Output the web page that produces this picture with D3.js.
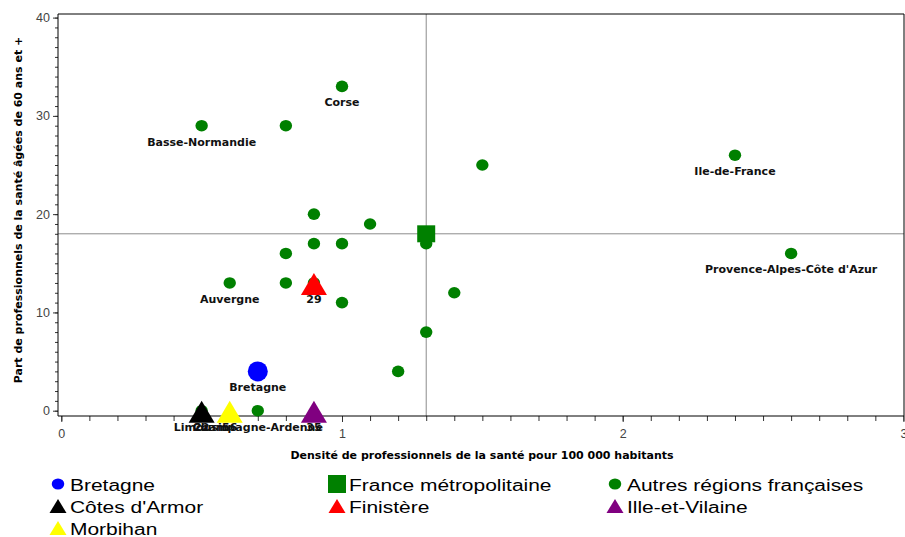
<!DOCTYPE html>
<html><head><meta charset="utf-8">
<script src="https://cdn.jsdelivr.net/npm/d3@7"></script>
<style>body{margin:0;background:#fff}svg{display:block}</style>
</head><body>
<svg id="c" width="905" height="537"></svg>
<script>
// Autres régions françaises
const regionX = [0.5, 0.8, 1.0, 1.5, 2.4, 2.6, 0.9, 1.1, 0.8, 0.9, 1.0, 1.3, 0.6, 0.8, 0.9, 1.0, 1.4, 1.3, 1.2, 0.7, 0.5];
const regionY = [29, 29, 33, 25, 26, 16, 20, 19, 16, 17, 17, 17, 13, 13, 13, 11, 12, 8, 4, 0, 0];
const regionLabel = ["Basse-Normandie", "", "Corse", "", "Ile-de-France", "Provence-Alpes-Côte d'Azur", "", "", "", "", "", "", "Auvergne", "", "", "", "", "", "", "Champagne-Ardenne", "Limousin"];
// Highlighted series
const seriesNames = ["Bretagne", "France métropolitaine", "Autres régions françaises", "Côtes d'Armor", "Finistère", "Ille-et-Vilaine", "Morbihan"];
const seriesX = [0.7, 1.3, null, 0.5, 0.9, 0.9, 0.6];
const seriesY = [4, 18, null, 0, 13, 0, 0];
const seriesLabel = ["Bretagne", "", "", "22", "29", "35", "56"];
const seriesShape = ["circle", "square", "circle", "triangle", "triangle", "triangle", "triangle"];
const seriesColor = ["#0000ff", "#008000", "#008000", "#000000", "#ff0000", "#800080", "#ffff00"];
const refX = 1.3, refY = 18;
const xTicks = [0, 1, 2, 3];
const yTicks = [0, 10, 20, 30, 40];
const xTitle = "Densité de professionnels de la santé pour 100 000 habitants";
const yTitle = "Part de professionnels de la santé âgées de 60 ans et +";

const svg = d3.select("#c");
const L = 58, R = 904, T = 14, B = 416;
const x = d3.scaleLinear().domain([0, 3]).range([61.3, 903.4]);
const y = d3.scaleLinear().domain([0, 40]).range([410.7, 17.6]);
const font = "Liberation Sans, Arial, sans-serif";
const bfont = "DejaVu Sans, Verdana, sans-serif";

// shape path generators (w x h, centered)
function shapePath(shape, w, h) {
  if (shape === "triangle") return `M0,${-h/2}L${w/2},${h/2}L${-w/2},${h/2}Z`;
  if (shape === "square") return `M${-w/2},${-h/2}h${w}v${h}h${-w}Z`;
  return `M${-w/2},0a${w/2},${h/2} 0 1,0 ${w},0a${w/2},${h/2} 0 1,0 ${-w},0Z`;
}
const plotDims = {circle: [20, 20], square: [18, 17], triangle: [26, 22]};
const legDims = {circle: [12.5, 11], square: [18, 18], triangle: [17, 14]};

// reference lines
svg.append("line").attr("x1", x(refX)).attr("x2", x(refX)).attr("y1", T).attr("y2", B).attr("stroke", "#8c8c8c").attr("stroke-width", 1);
svg.append("line").attr("x1", L).attr("x2", R).attr("y1", y(refY)).attr("y2", y(refY)).attr("stroke", "#8c8c8c").attr("stroke-width", 1);

// axes
const minorX = d3.range(0, 3.0001, 0.1).map(v => +v.toFixed(1));
const minorY = d3.range(0, 40.001, 1);
const gx = svg.append("g").attr("transform", `translate(0,${B})`);
gx.call(d3.axisBottom(x).tickValues(minorX).tickSize(5).tickFormat(""));
gx.select(".domain").remove();
const gx2 = svg.append("g").attr("transform", `translate(0,${B})`);
gx2.call(d3.axisBottom(x).tickValues(xTicks).tickSize(6).tickPadding(7).tickFormat(d3.format("d")));
gx2.select(".domain").remove();
const gy = svg.append("g").attr("transform", `translate(${L},0)`);
gy.call(d3.axisLeft(y).tickValues(minorY).tickSize(3).tickFormat(""));
gy.select(".domain").remove();
const gy2 = svg.append("g").attr("transform", `translate(${L},0)`);
gy2.call(d3.axisLeft(y).tickValues(yTicks).tickSize(5).tickPadding(3).tickFormat(d3.format("d")));
gy2.select(".domain").remove();
svg.selectAll(".tick line").attr("stroke", "#333");
svg.selectAll(".tick text").attr("font-family", font).attr("font-size", 12.5).attr("fill", "#444");

// frame
svg.append("path").attr("d", `M${L},${T}H${R}V${B}H${L}Z`).attr("fill", "none").attr("stroke", "#000").attr("stroke-width", 1);

// axis titles
svg.append("text").attr("x", 482).attr("y", 459).attr("text-anchor", "middle").attr("font-family", bfont).attr("font-size", 11).attr("font-weight", "bold").text(xTitle);
svg.append("text").attr("transform", "translate(22,210) rotate(-90)").attr("text-anchor", "middle").attr("font-family", bfont).attr("font-size", 11).attr("font-weight", "bold").text(yTitle);

const green = seriesColor[2];

// other regions
const regions = regionX.map((v, i) => ({x: v, y: regionY[i], label: regionLabel[i]}));
svg.append("g").selectAll("ellipse").data(regions).join("ellipse")
  .attr("cx", d => x(d.x)).attr("cy", d => y(d.y)).attr("rx", 6.2).attr("ry", 5.8).attr("fill", green);

// highlighted
const hl = seriesNames.map((n, i) => ({name: n, x: seriesX[i], y: seriesY[i], label: seriesLabel[i], shape: seriesShape[i], color: seriesColor[i]})).filter(d => d.x !== null);
svg.append("g").selectAll("path").data(hl).join("path")
  .attr("transform", d => `translate(${x(d.x)},${y(d.y) + (d.shape === "triangle" ? 1 : 0)})`)
  .attr("d", d => shapePath(d.shape, ...plotDims[d.shape]))
  .attr("fill", d => d.color);

// labels
const labels = regions.filter(d => d.label).concat(hl.filter(d => d.label));
svg.append("g").selectAll("text").data(labels).join("text")
  .attr("x", d => x(d.x)).attr("y", d => y(d.y) + 20)
  .attr("text-anchor", "middle").attr("font-family", bfont).attr("font-size", 11).attr("font-weight", "bold").attr("fill", "#111")
  .text(d => d.label);

// legend
const legPos = [[58, 484], [337, 484], [615, 484], [58, 506], [337, 506], [615, 506], [58, 528]];
const lg = svg.append("g").selectAll("g").data(seriesNames).join("g")
  .attr("transform", (d, i) => `translate(${legPos[i][0]},${legPos[i][1]})`);
lg.append("path").attr("d", (d, i) => shapePath(seriesShape[i], ...legDims[seriesShape[i]]))
  .attr("fill", (d, i) => seriesColor[i]);
lg.append("text").attr("transform", "translate(12,7) scale(1.31,1)").attr("font-family", font).attr("font-size", 16).attr("fill", "#000").text(d => d);
</script>
</body></html>
